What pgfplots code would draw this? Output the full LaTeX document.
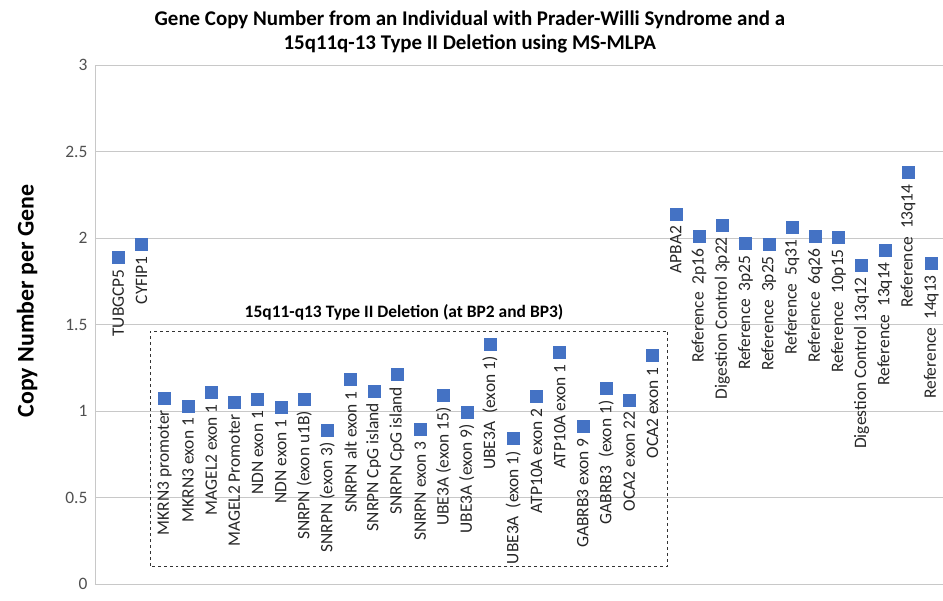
\documentclass[border=0pt]{standalone}
\usepackage{pgfplots}
\usepackage{pgfplotstable}
\pgfplotsset{compat=1.18}
\usepackage{fontspec}
\setmainfont{Carlito}
\definecolor{mk}{RGB}{68,114,196}
\definecolor{gridc}{RGB}{200,200,200}
\definecolor{tickc}{RGB}{80,80,80}
\begin{document}
\pgfplotstableread[col sep=comma]{
x,y,label
1,1.89,TUBGCP5
2,1.965,CYFIP1
3,1.075,MKRN3 promoter
4,1.03,MKRN3 exon 1
5,1.11,MAGEL2 exon 1
6,1.05,MAGEL2 Promoter
7,1.07,NDN exon 1
8,1.02,NDN exon 1
9,1.07,SNRPN (exon u1B)
10,0.89,SNRPN (exon 3)
11,1.185,SNRPN alt exon 1
12,1.115,SNRPN CpG island
13,1.21,SNRPN CpG island
14,0.895,SNRPN exon 3
15,1.09,UBE3A (exon 15)
16,0.995,UBE3A (exon 9)
17,1.385,UBE3A~~(exon 1)
18,0.84,UBE3A~~(exon 1)
19,1.085,ATP10A exon 2
20,1.34,ATP10A exon 1
21,0.91,GABRB3 exon 9
22,1.13,GABRB3~~(exon 1)
23,1.065,OCA2 exon 22
24,1.32,OCA2 exon 1
25,2.14,APBA2
26,2.01,Reference~~2p16
27,2.075,Digestion Control 3p22
28,1.97,Reference~~3p25
29,1.965,Reference~~3p25
30,2.06,Reference~~5q31
31,2.01,Reference~~6q26
32,2.005,Reference~~10p15
33,1.84,Digestion Control 13q12
34,1.93,Reference~~13q14
35,2.38,Reference~~13q14
36,1.855,Reference~~14q13
}\genedata
\begin{tikzpicture}
\useasboundingbox (-95bp,-17bp) rectangle (848bp,584bp);
\begin{axis}[
  at={(0,0)}, anchor=south west,
  scale only axis,
  width=848bp, height=519bp,
  xmin=0, xmax=36.5,
  ymin=0, ymax=3,
  ytick={0,0.5,...,3},
  xtick=\empty,
  axis x line*=bottom,
  axis y line*=left,
  axis line style={gridc, line width=0.8bp},
  ymajorgrids,
  grid style={gridc, line width=0.8bp},
  major tick length=0pt,
  /pgf/number format/assume math mode=true,
  yticklabel style={font=\fontsize{17.5}{19}\selectfont, text=tickc, xshift=-4bp},
  ylabel={\textbf{Copy Number per Gene}},
  ylabel style={font=\fontsize{24}{27}\selectfont, at={(axis description cs:-0.080,0.545)}, anchor=center, rotate=0},
  clip=false,
]
\addplot[only marks, mark=square*, mark size=6bp, mark options={fill=mk, draw=mk},
  nodes near coords={\pgfplotspointmeta},
  point meta=explicit symbolic,
  every node near coord/.append style={rotate=90, anchor=east, inner xsep=12bp, inner ysep=0pt,
    font=\fontsize{17.5}{19}\selectfont, text=black!85}]
  table[x=x, y=y, meta=label] {\genedata};
\draw[dashed, line width=0.9bp, black!80] (axis cs:2.38,0.104) rectangle (axis cs:24.65,1.462);
\node[font=\bfseries\fontsize{17.5}{20}\selectfont] at (axis cs:13.3,1.572) {15q11-q13 Type II Deletion (at BP2 and BP3)};
\node[font=\bfseries\fontsize{21}{25}\selectfont, align=center, anchor=south] at (axis description cs:0.442,1.0) [yshift=8bp]
  {Gene Copy Number from an Individual with Prader-Willi Syndrome and a\\15q11q-13 Type II Deletion using MS-MLPA};
\end{axis}
\end{tikzpicture}
\end{document}
